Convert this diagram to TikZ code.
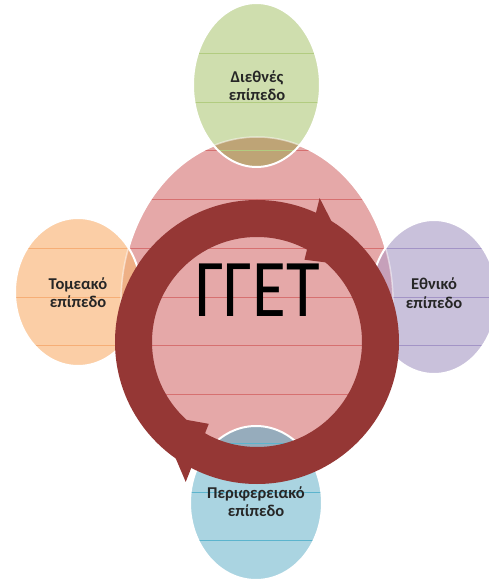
\documentclass[tikz,border=0pt]{standalone}
\usepackage{fontspec}
\setmainfont{Carlito}
\usetikzlibrary{calc}
\definecolor{pinkf}{RGB}{229,168,168}
\definecolor{pinkl}{RGB}{214,112,112}
\definecolor{greenf}{RGB}{207,222,174}
\definecolor{greenl}{RGB}{178,204,128}
\definecolor{orangef}{RGB}{251,206,166}
\definecolor{orangel}{RGB}{246,174,118}
\definecolor{purplef}{RGB}{201,193,219}
\definecolor{purplel}{RGB}{163,148,198}
\definecolor{bluef}{RGB}{170,212,225}
\definecolor{bluel}{RGB}{92,180,205}
\definecolor{gov}{RGB}{190,164,118}
\definecolor{oov}{RGB}{238,176,134}
\definecolor{vov}{RGB}{198,160,186}
\definecolor{bov}{RGB}{150,172,188}
\definecolor{ringc}{RGB}{149,55,53}
\begin{document}
\begin{tikzpicture}[x=1pt,y=1pt,
  lbl/.style={font=\fontsize{16.5}{18}\selectfont\bfseries, text=black!85, inner sep=0pt, anchor=base},
  hl/.style={line width=0.6pt},
  rim/.style={draw=white, line width=2pt},
  pinkpath/.style={insert path={(pc) ellipse [x radius=136pt, y radius=165pt]}},
  greenpath/.style={insert path={(gc) ellipse [x radius=63.5pt, y radius=82pt]}},
  orangepath/.style={insert path={(oc) ellipse [x radius=63pt, y radius=74pt]}},
  purplepath/.style={insert path={(vc) ellipse [x radius=63pt, y radius=77pt]}},
  bluepath/.style={insert path={(bc) ellipse [x radius=66pt, y radius=77pt]}},
  arrowhead/.style={fill=ringc}]
\useasboundingbox (0,0) rectangle (489,579);
\fill[white] (0,0) rectangle (489,579);
\coordinate (pc) at (257,277);
\coordinate (gc) at (256.5,494);
\coordinate (oc) at (78,287);
\coordinate (vc) at (434,282);
\coordinate (bc) at (256,76);
\coordinate (rc) at (257,237);
% central pink shape
\fill[pinkf, pinkpath];
\begin{scope}
  \path[clip, pinkpath];
  \foreach \yy in {526,477,429,380,331,282,234,185,136,87,39}
    \draw[hl, pinkl] (0,\yy) -- (489,\yy);
\end{scope}
\draw[rim, pinkpath];
% satellites
\fill[greenf, greenpath];
\fill[orangef, orangepath];
\fill[purplef, purplepath];
\fill[bluef, bluepath];
\begin{scope}
  \path[clip, pinkpath];
  \fill[gov, greenpath];
  \fill[oov, orangepath];
  \fill[vov, purplepath];
  \fill[bov, bluepath];
\end{scope}
\begin{scope}
  \path[clip, greenpath];
  \foreach \yy in {526,477,429}
    \draw[hl, greenl] (0,\yy) -- (489,\yy);
\end{scope}
\begin{scope}
  \path[clip, orangepath];
  \foreach \yy in {331,282,234}
    \draw[hl, orangel] (0,\yy) -- (489,\yy);
\end{scope}
\begin{scope}
  \path[clip, purplepath];
  \foreach \yy in {331,282,234}
    \draw[hl, purplel] (0,\yy) -- (489,\yy);
\end{scope}
\begin{scope}
  \path[clip, bluepath];
  \foreach \yy in {136,87,39}
    \draw[hl, bluel] (0,\yy) -- (489,\yy);
\end{scope}
\draw[draw=white, opacity=0.5, line width=1.5pt, pinkpath];
\draw[rim, greenpath];
\draw[rim, orangepath];
\draw[rim, purplepath];
\draw[rim, bluepath];
% circular arrow ring
\draw[ringc, line width=37pt] (rc) circle [radius=123.5pt];
\fill[arrowhead] ($(rc)+(66.5:157)$) -- ($(rc)+(38:123.5)$) -- ($(rc)+(60:95)$) -- cycle;
\fill[arrowhead] ($(rc)+(243:157)$) -- ($(rc)+(216:123.5)$) -- ($(rc)+(239.5:95)$) -- cycle;
% texts
\node[font=\fontsize{82}{82}\selectfont, anchor=base, inner sep=0pt, xscale=0.84] (gget) at (257.5,262) {ΓΓΕΤ};
\node[lbl] (g1) at (257,496) {Διεθνές};
\node[lbl] (g2) at (257,478) {επίπεδο};
\node[lbl] (o1) at (78,289) {Τομεακό};
\node[lbl] (o2) at (78,271) {επίπεδο};
\node[lbl] (v1) at (434,289) {Εθνικό};
\node[lbl] (v2) at (434,270) {επίπεδο};
\node[lbl] (b1) at (256,80) {Περιφερειακό};
\node[lbl] (b2) at (256,62) {επίπεδο};
\end{tikzpicture}
\end{document}
